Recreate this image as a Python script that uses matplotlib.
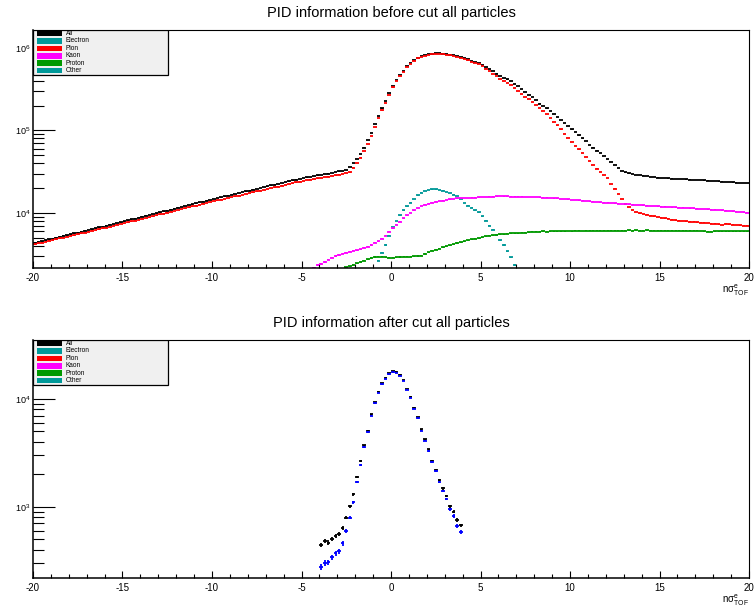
import matplotlib
matplotlib.use("Agg")
import matplotlib.pyplot as plt
import numpy as np
from matplotlib.patches import Rectangle
from matplotlib.ticker import LogLocator, MultipleLocator, NullFormatter

plt.rcParams['font.family'] = ['Liberation Sans', 'DejaVu Sans']
plt.rcParams['mathtext.fontset'] = 'custom'
plt.rcParams['mathtext.rm'] = 'Liberation Sans'
plt.rcParams['mathtext.it'] = 'Liberation Sans'
plt.rcParams['mathtext.default'] = 'regular'
plt.rcParams['axes.unicode_minus'] = False

# histogram binning: 200 bins of 0.2 from -20 to 20
bin_width = 0.2
x_lo = -20.0

legend_names = ['All', 'Electron', 'Pion', 'Kaon', 'Proton', 'Other']
legend_colors = ['black', '#009999', 'red', 'magenta', '#009900', '#009999']

# ---- before cut (counts per bin) ----
all_before = [
    4350, 4460, 4560, 4670, 4790, 4900, 5020, 5150, 5270, 5400,
    5530, 5660, 5800, 5940, 6080, 6230, 6380, 6530, 6690, 6850,
    7020, 7190, 7370, 7550, 7750, 7950, 8150, 8360, 8570, 8780,
    9000, 9230, 9460, 9700, 9950, 10200, 10460, 10720, 10990, 11270,
    11550, 11840, 12140, 12450, 12760, 13080, 13410, 13750, 14100, 14450,
    14800, 15150, 15510, 15880, 16260, 16640, 17040, 17440, 17850, 18280,
    18710, 19150, 19610, 20070, 20550, 21040, 21540, 22050, 22570, 23100,
    23650, 24210, 24780, 25370, 25970, 26500, 27000, 27500, 28000, 28500,
    29000, 29600, 30100, 30700, 31300, 31900, 32500, 33300, 36000, 40000,
    45000, 52000, 62000, 76000, 94000, 120000, 150000, 185000, 225000, 285000,
    345000, 410000, 470000, 530000, 600000, 660000, 710000, 760000, 790000, 815000,
    835000, 855000, 860000, 860000, 855000, 850000, 830000, 810000, 790000, 775000,
    750000, 725000, 700000, 680000, 655000, 625000, 590000, 555000, 520000, 490000,
    460000, 435000, 415000, 395000, 370000, 345000, 320000, 295000, 272000, 252000,
    232000, 212000, 198000, 185000, 172000, 158000, 146000, 133000, 122000, 113000,
    103000, 95000, 87000, 80000, 74000, 67000, 62000, 57000, 53000, 49000,
    45000, 41500, 38000, 35000, 32500, 31000, 30200, 29600, 29100, 28700,
    28300, 27900, 27500, 27200, 26900, 26700, 26500, 26300, 26100, 26000,
    25800, 25700, 25500, 25400, 25200, 25100, 25000, 24900, 24700, 24600,
    24400, 24200, 24000, 23900, 23700, 23500, 23400, 23200, 23100, 23000,
]
pion_before = [
    4180, 4280, 4370, 4470, 4590, 4690, 4800, 4920, 5040, 5160,
    5280, 5400, 5530, 5660, 5790, 5930, 6070, 6210, 6360, 6510,
    6670, 6830, 7000, 7170, 7360, 7540, 7730, 7920, 8110, 8300,
    8500, 8700, 8910, 9130, 9350, 9590, 9830, 10080, 10330, 10590,
    10860, 11130, 11410, 11700, 11990, 12300, 12610, 12930, 13250, 13580,
    13900, 14210, 14530, 14860, 15200, 15540, 15900, 16250, 16620, 17000,
    17400, 17810, 18240, 18650, 19090, 19530, 19990, 20440, 20920, 21390,
    21900, 22420, 22920, 23470, 24020, 24490, 24920, 25360, 25760, 26190,
    26620, 27140, 27570, 28090, 28610, 29120, 29640, 30300, 31000, 35500,
    40500, 47000, 56000, 69000, 86000, 111000, 141000, 175000, 214000, 272000,
    332000, 395000, 455000, 515000, 585000, 645000, 695000, 745000, 775000, 800000,
    820000, 838000, 843000, 843000, 838000, 832000, 812000, 792000, 772000, 756000,
    730000, 705000, 680000, 658000, 632000, 600000, 563000, 525000, 488000, 456000,
    425000, 400000, 378000, 352000, 325000, 300000, 277000, 257000, 238000, 220000,
    203000, 187000, 172000, 158000, 143000, 128000, 115000, 103000, 91000, 81000,
    72000, 65000, 59000, 53000, 47500, 42500, 38000, 34500, 31500, 29000,
    26500, 22500, 19800, 17000, 14800, 13000, 11800, 10900, 10300, 9950,
    9700, 9500, 9300, 9100, 8950, 8800, 8650, 8500, 8300, 8200,
    8100, 8000, 7950, 7850, 7800, 7700, 7650, 7600, 7550, 7450,
    7400, 7300, 7150, 7450, 7300, 7200, 7150, 7100, 7050, 7000,
]
# partial series: first bin centre + counts
electron_start = -0.9
electron_before = [
    2100, 2650, 3300, 4100, 5300, 6700, 8000, 9400, 10800, 12000,
    13300, 14700, 16300, 17700, 18500, 19000, 19400, 19300, 19100, 18700,
    18000, 17400, 16700, 16000, 14700, 13200, 12300, 11600, 10800, 10200,
    9100, 8100, 7000, 6300, 5400, 4700, 4100, 3450, 2900, 2350,
    1900,
]
kaon_start = -4.3
kaon_before = [
    2150, 2330, 2420, 2560, 2730, 2880, 3000, 3100, 3200, 3310,
    3400, 3480, 3550, 3650, 3780, 3900, 4100, 4350, 4550, 4900,
    5300, 5900, 6500, 7200, 7850, 8600, 9400, 10000, 10800, 11500,
    12100, 12600, 13000, 13400, 13700, 13900, 14100, 14300, 14600, 14800,
    15000, 15100, 15200, 15200, 15300, 15400, 15500, 15600, 15700, 15800,
    15800, 15900, 16000, 15900, 15900, 15800, 15800, 15800, 15800, 15700,
    15700, 15600, 15600, 15500, 15400, 15300, 15200, 15100, 15000, 14800,
    14700, 14600, 14400, 14300, 14200, 14100, 13900, 13800, 13700, 13600,
    13500, 13400, 13300, 13200, 13100, 13000, 12900, 12800, 12700, 12600,
    12500, 12500, 12400, 12300, 12200, 12100, 12000, 11950, 11900, 11800,
    11750, 11700, 11600, 11550, 11500, 11400, 11350, 11300, 11200, 11150,
    11100, 11000, 10950, 10850, 10800, 10650, 10550, 10450, 10400, 10300,
    10200, 10100,
]
proton_start = -2.5
proton_before = [
    2200, 2260, 2340, 2450, 2560, 2640, 2750, 2850, 2920, 2950,
    2950, 2900, 2880, 2880, 2900, 2920, 2950, 2950, 2960, 2980,
    3000, 3050, 3180, 3350, 3500, 3600, 3700, 3820, 3950, 4070,
    4200, 4330, 4440, 4570, 4680, 4780, 4870, 4960, 5050, 5200,
    5300, 5380, 5450, 5500, 5550, 5600, 5650, 5680, 5700, 5750,
    5800, 5850, 5900, 5920, 5950, 5970, 5950, 6000, 6020, 5980,
    6000, 6030, 6050, 6020, 6060, 6080, 6050, 6070, 6100, 6080,
    6100, 6080, 6120, 6100, 6090, 6110, 6130, 6100, 6120, 6140,
    6120, 6150, 6130, 6110, 6140, 6120, 6100, 6130, 6110, 6090,
    6110, 6100, 6080, 6100, 6090, 6070, 6080, 6060, 6070, 6050,
    6000, 5950, 5900, 5980, 6020, 6000, 6030, 6010, 6040, 6020,
    6030, 6020, 6030,
]

# ---- after cut (|n sigma| < 4) ----
after_start = -3.9
all_after = [
    440, 480, 465, 505, 540, 560, 640, 790, 1010, 1300,
    1890, 2640, 3710, 5080, 7210, 9310, 11700, 14000, 15800, 17300,
    18100, 17900, 16800, 15000, 12400, 10500, 8250, 6760, 5230, 4230,
    3410, 2670, 2190, 1770, 1480, 1260, 1010, 900, 753, 672,
]
electron_after = [
    277, 302, 306, 339, 369, 385, 457, 598, 791, 1100,
    1710, 2440, 3600, 4950, 7000, 9100, 11400, 13700, 15500, 16900,
    17700, 17500, 16400, 14700, 12200, 10300, 8100, 6600, 5100, 4100,
    3300, 2590, 2140, 1700, 1400, 1180, 946, 820, 661, 582,
]


def centres(start, values):
    return start + bin_width * np.arange(len(values))


def draw_hist(ax, x, y, color):
    y = np.asarray(y, dtype=float)
    ax.errorbar(x, y, xerr=bin_width / 2, yerr=np.sqrt(y), fmt='none',
                ecolor=color, elinewidth=1.3, capsize=0)


W, H = 716.0, 238.0  # axes size in pixels


def draw_legend(ax):
    ax.add_patch(Rectangle((0, 1 - 45 / H), 135 / W, 45 / H, transform=ax.transAxes,
                           facecolor='#f0f0f0', edgecolor='black', lw=0.9, zorder=5))
    for i, (name, col) in enumerate(zip(legend_names, legend_colors)):
        top = 0.8 + i * 7.4
        ax.add_patch(Rectangle((4 / W, 1 - (top + 5.6) / H), 25 / W, 5.6 / H,
                               transform=ax.transAxes, facecolor=col, edgecolor='none', zorder=6))
        ax.text(32.5 / W, 1 - (top + 2.8) / H, name, transform=ax.transAxes,
                fontsize=4.7, va='center', ha='left', zorder=7)


def style_axes(ax, ylim, title):
    ax.set_yscale('log')
    ax.set_xlim(-20, 20)
    ax.set_ylim(*ylim)
    ax.xaxis.set_major_locator(MultipleLocator(5))
    ax.xaxis.set_minor_locator(MultipleLocator(1))
    ax.yaxis.set_major_locator(LogLocator(base=10, subs=(1.0,)))
    ax.yaxis.set_minor_locator(LogLocator(base=10, subs=np.arange(2, 10)))
    ax.yaxis.set_minor_formatter(NullFormatter())
    ax.tick_params(axis='both', which='both', direction='in', top=False, right=False,
                   width=0.8, colors='black')
    ax.tick_params(axis='x', which='major', length=5, pad=3.5, labelsize=7)
    ax.tick_params(axis='x', which='minor', length=2.6)
    ax.tick_params(axis='y', which='major', length=15.5, pad=2, labelsize=6.5)
    ax.tick_params(axis='y', which='minor', length=7.7)
    for s in ['left', 'bottom']:
        ax.spines[s].set_linewidth(1.1)
    for s in ['top', 'right']:
        ax.spines[s].set_linewidth(0.8)
    # axis title sits below the last tick label, right-aligned
    ax.text(1.0, -15 / H, r'n$\sigma^{e}_{TOF}$', transform=ax.transAxes,
            ha='right', va='top', fontsize=7)
    ax.set_title(title, fontsize=10.5, pad=9)
    draw_legend(ax)


fig = plt.figure(figsize=(7.56, 6.07), dpi=100)
ax1 = fig.add_axes([33 / 756, 1 - 268 / 607, 716 / 756, 238 / 607])
ax2 = fig.add_axes([33 / 756, 1 - 578 / 607, 716 / 756, 238 / 607])

x_all = centres(x_lo + bin_width / 2, all_before)
draw_hist(ax1, x_all, all_before, 'black')
draw_hist(ax1, centres(electron_start, electron_before), electron_before, '#009999')
draw_hist(ax1, x_all, pion_before, 'red')
draw_hist(ax1, centres(kaon_start, kaon_before), kaon_before, 'magenta')
draw_hist(ax1, centres(proton_start, proton_before), proton_before, '#009900')
style_axes(ax1, (2155, 1.65e6), 'PID information before cut all particles')

x_after = centres(after_start, all_after)
draw_hist(ax2, x_after, all_after, 'black')
draw_hist(ax2, x_after, electron_after, 'blue')
style_axes(ax2, (218, 3.53e4), 'PID information after cut all particles')

fig.savefig('out.png', dpi=100)
